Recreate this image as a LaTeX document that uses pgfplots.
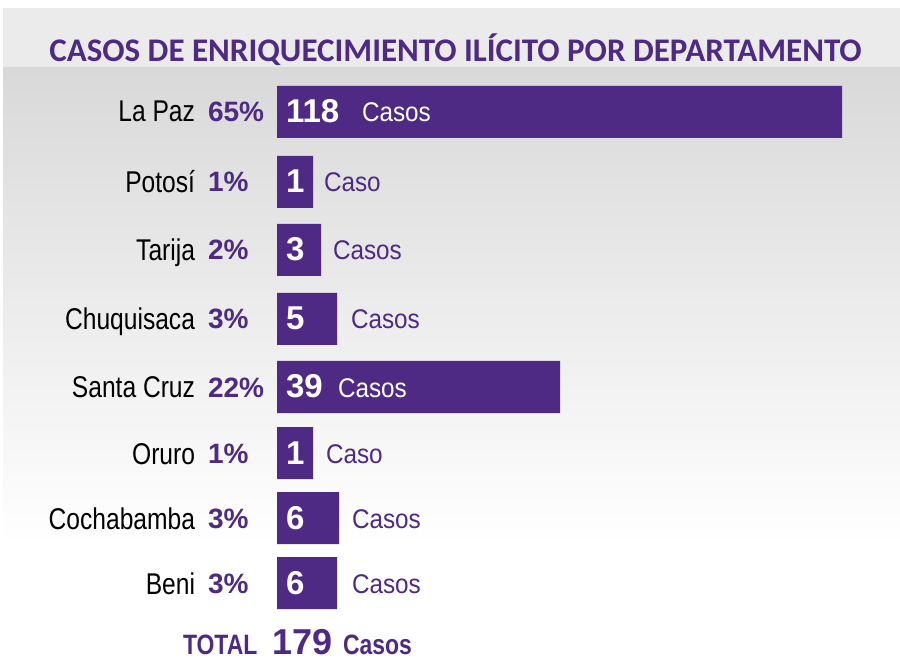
\documentclass[border=0pt]{standalone}
\usepackage{fontspec}
\setmainfont{Liberation Sans}
\newfontfamily\narrowfont[FakeStretch=0.82]{Liberation Sans}
\newfontfamily\semifont[FakeStretch=0.9]{Liberation Sans}
\newfontfamily\titlefont{Carlito}
\usepackage{pgfplots}
\pgfplotsset{compat=1.18}
\usepackage{pgfplotstable}
\definecolor{morado}{HTML}{4E2A84}

% pos = row centre (px from top), len = drawn bar length (px)
\pgfplotstableread{
pos  cases len
112  118   565
182  1     36
250  3     44
319  5     60
387  39    283
453  1     36
518  6     62
583  6     60
}\datos

\tikzset{
  every node/.append style={inner sep=0pt, outer sep=0pt},
  dep/.style={anchor=base east, font=\narrowfont\fontsize{30}{30}\selectfont},
  pct/.style={anchor=base west, text=morado, font=\bfseries\fontsize{28}{28}\selectfont},
  num/.style={anchor=base west, text=white, font=\bfseries\fontsize{33}{33}\selectfont},
  cas/.style={anchor=base west, text=morado, font=\semifont\fontsize{27}{27}\selectfont},
}

\begin{document}
\begin{tikzpicture}
% background
\fill[white] (0,0) rectangle (900pt,660pt);
\fill[black!8] (3pt,592pt) rectangle (900pt,652pt);
\shade[top color=black!15, bottom color=white] (3pt,115pt) rectangle (900pt,592pt);
\begin{axis}[
    at={(0,0)}, anchor=south west,
    scale only axis,
    width=900pt, height=660pt,
    xmin=-277, xmax=623,
    ymin=0, ymax=660,
    y dir=reverse,
    hide axis,
    clip=false,
    xbar,
    bar width=52pt,
]
\addplot[fill=morado, draw=none] table[x=len, y=pos] {\datos};

\node[anchor=base, text=morado, font=\titlefont\bfseries\fontsize{33}{33}\selectfont]
  at (axis cs:178.5,62) {CASOS DE ENRIQUECIMIENTO ILÍCITO POR DEPARTAMENTO};

% department names
\node[dep] at (axis cs:-82,122) {La Paz};
\node[dep] at (axis cs:-82,193) {Potosí};
\node[dep] at (axis cs:-82,261) {Tarija};
\node[dep] at (axis cs:-82,330) {Chuquisaca};
\node[dep] at (axis cs:-82,398) {Santa Cruz};
\node[dep] at (axis cs:-82,464) {Oruro};
\node[dep] at (axis cs:-82,529) {Cochabamba};
\node[dep] at (axis cs:-82,594) {Beni};

% percentages
\node[pct] at (axis cs:-69,122) {65\%};
\node[pct] at (axis cs:-69,192) {1\%};
\node[pct] at (axis cs:-69,260) {2\%};
\node[pct] at (axis cs:-69,329) {3\%};
\node[pct] at (axis cs:-69,397) {22\%};
\node[pct] at (axis cs:-69,463) {1\%};
\node[pct] at (axis cs:-69,528) {3\%};
\node[pct] at (axis cs:-69,593) {3\%};

% counts inside bars
\node[num] at (axis cs:9,123) {118};
\node[num] at (axis cs:9,193) {1};
\node[num] at (axis cs:9,261) {3};
\node[num] at (axis cs:9,330) {5};
\node[num] at (axis cs:9,398) {39};
\node[num] at (axis cs:9,464) {1};
\node[num] at (axis cs:9,529) {6};
\node[num] at (axis cs:9,594) {6};

% "Casos"
\node[cas, text=white] at (axis cs:85,122) {Casos};
\node[cas] at (axis cs:47,192) {Caso};
\node[cas] at (axis cs:56,260) {Casos};
\node[cas] at (axis cs:74,329) {Casos};
\node[cas, text=white] at (axis cs:61,397) {Casos};
\node[cas] at (axis cs:49,463) {Caso};
\node[cas] at (axis cs:75,528) {Casos};
\node[cas] at (axis cs:75,593) {Casos};

% total
\node[anchor=base west, text=morado, font=\narrowfont\bfseries\fontsize{28}{28}\selectfont]
  at (axis cs:-94,654) {TOTAL};
\node[anchor=base west, text=morado, font=\bfseries\fontsize{36}{36}\selectfont]
  at (axis cs:-5,654) {179};
\node[anchor=base west, text=morado, font=\narrowfont\bfseries\fontsize{28}{28}\selectfont]
  at (axis cs:66,654) {Casos};
\end{axis}
\end{tikzpicture}
\end{document}
